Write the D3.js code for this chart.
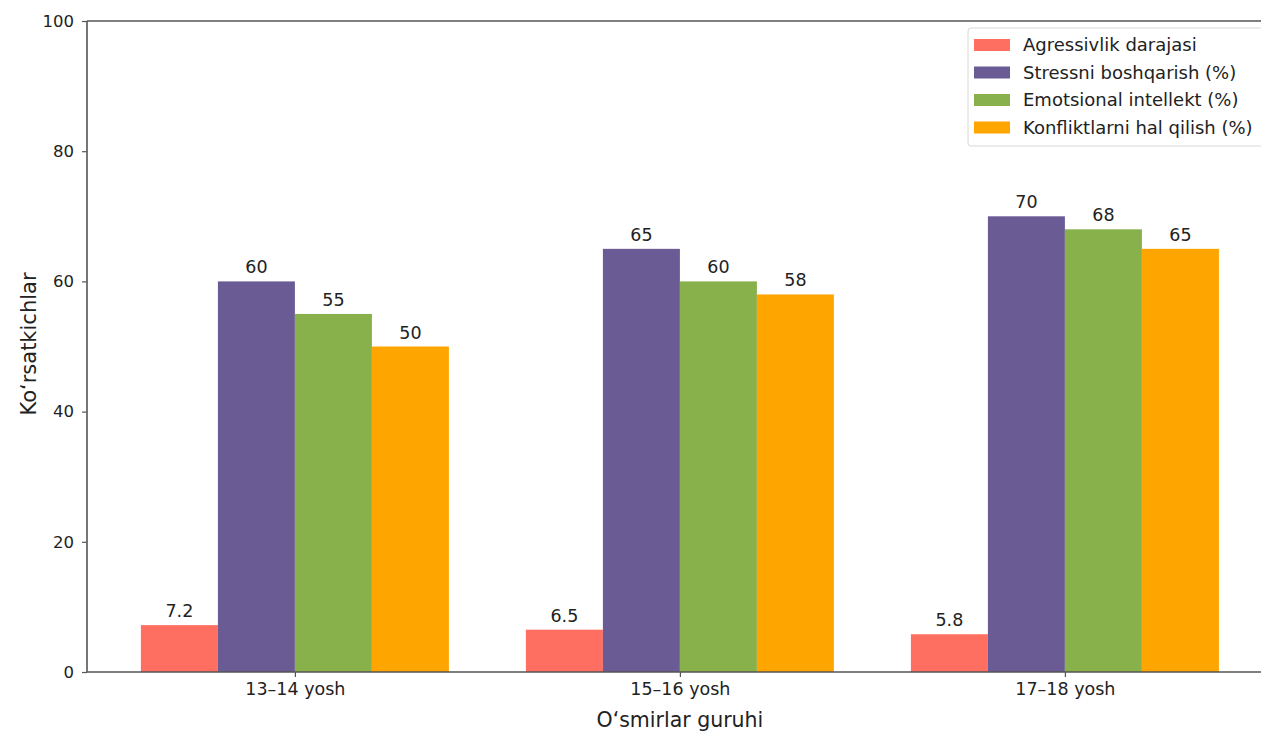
<!DOCTYPE html>
<html>
<head>
<meta charset="utf-8">
<script src="https://cdn.jsdelivr.net/npm/d3@7"></script>
<style>
  html, body { margin: 0; padding: 0; background: #fff; }
  svg { display: block; font-family: "DejaVu Sans", sans-serif; }
</style>
</head>
<body>
<svg id="chart" width="1261" height="731"></svg>
<script>
(function () {
  const groups = ['13–14 yosh', '15–16 yosh', '17–18 yosh'];
  const seriesNames = ['Agressivlik darajasi', 'Stressni boshqarish (%)', 'Emotsional intellekt (%)', 'Konfliktlarni hal qilish (%)'];
  const seriesColors = ['#FF6F61', '#6B5B95', '#88B04B', '#FFA500'];
  const aggression = [7.2, 6.5, 5.8];
  const stress = [60, 65, 70];
  const emotional = [55, 60, 68];
  const conflict = [50, 58, 65];
  const seriesValues = [aggression, stress, emotional, conflict];
  const yTicks = [0, 20, 40, 60, 80, 100];

  const svg = d3.select('#chart');
  const left = 87, top = 21, bottom = 672;
  const barW = 0.2;
  // matplotlib-like x limits: bars span -0.4 .. 2.4 plus 5% margin
  const x = d3.scaleLinear().domain([-0.54, 2.54]).range([left, left + 3.08 * 385]);
  const y = d3.scaleLinear().domain([0, 100]).range([bottom, top]);

  const g = svg.append('g');

  // bars
  seriesValues.forEach((vals, si) => {
    const off = (si - 1.5) * barW;
    const sg = g.append('g');
    sg.selectAll('rect').data(vals).join('rect')
      .attr('x', (d, i) => x(i + off - barW / 2))
      .attr('width', x(barW) - x(0))
      .attr('y', d => y(d))
      .attr('height', d => y(0) - y(d))
      .attr('fill', seriesColors[si]);
    sg.selectAll('text').data(vals).join('text')
      .attr('x', (d, i) => x(i + off))
      .attr('y', d => y(d) - 8)
      .attr('text-anchor', 'middle')
      .attr('font-size', 17.5)
      .attr('fill', '#222')
      .text(d => d);
  });

  // axes
  const yAxis = d3.axisLeft(y).tickValues(yTicks).tickSize(5).tickPadding(8);
  const ya = g.append('g').attr('transform', `translate(${left},0)`).call(yAxis);
  const xAxis = d3.axisBottom(x).tickValues([0, 1, 2]).tickFormat(i => groups[i]).tickSize(5).tickPadding(6);
  const xa = g.append('g').attr('transform', `translate(0,${bottom})`).call(xAxis);
  [ya, xa].forEach(a => {
    a.select('.domain').attr('stroke', '#555').attr('stroke-width', 1.6);
    a.selectAll('.tick line').attr('stroke', '#555').attr('stroke-width', 1.2);
    a.selectAll('.tick text').attr('fill', '#222').attr('font-family', '"DejaVu Sans", sans-serif');
  });
  ya.selectAll('.tick text').attr('font-size', 16.5);
  xa.selectAll('.tick text').attr('font-size', 17.5);
  ya.select('.domain').attr('d', `M0,${bottom}V${top}`);
  xa.select('.domain').attr('d', `M${left},0H1261`);
  // top spine
  g.append('line').attr('x1', left).attr('x2', 1261).attr('y1', top).attr('y2', top)
    .attr('stroke', '#555').attr('stroke-width', 1.6);

  // axis labels
  g.append('text').attr('transform', `translate(36,344) rotate(-90)`)
    .attr('text-anchor', 'middle').attr('font-size', 21).attr('fill', '#222').text('Ko‘rsatkichlar');
  g.append('text').attr('x', x(1)).attr('y', 727)
    .attr('text-anchor', 'middle').attr('font-size', 20.5).attr('fill', '#222').text('O‘smirlar guruhi');

  // legend
  const lg = g.append('g').attr('transform', 'translate(968,28)');
  lg.append('rect').attr('width', 300).attr('height', 118).attr('rx', 3)
    .attr('fill', '#fff').attr('stroke', '#d8d8d8').attr('stroke-width', 1);
  seriesNames.forEach((name, i) => {
    const row = lg.append('g').attr('transform', `translate(0,${17 + i * 27.5})`);
    row.append('rect').attr('x', 6).attr('y', -6).attr('width', 36).attr('height', 12).attr('fill', seriesColors[i]);
    row.append('text').attr('x', 55).attr('y', 6).attr('font-size', 18).attr('fill', '#222').text(name);
  });
})();
</script>
</body>
</html>
